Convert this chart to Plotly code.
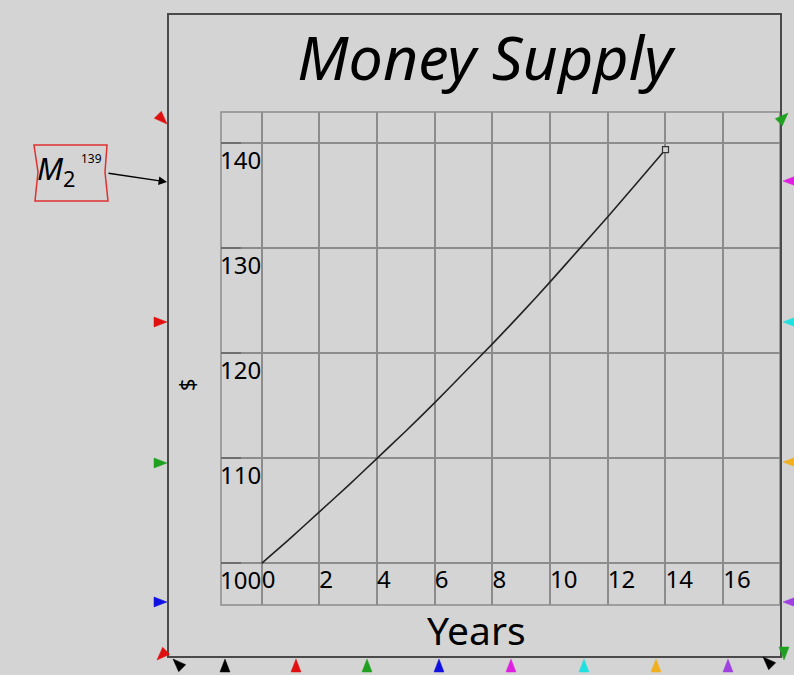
import plotly.graph_objects as go

# ---- data ----
years = [0, 1, 2, 3, 4, 5, 6, 7, 8, 9, 10, 11, 12, 13, 14]
money_supply = [100.0, 102.4, 104.9, 107.4, 110.0, 112.6, 115.3, 118.1, 120.9,
                123.8, 126.8, 129.9, 133.0, 136.2, 139.4]
x_ticks = [0, 2, 4, 6, 8, 10, 12, 14, 16]
y_ticks = [100, 110, 120, 130, 140]
final_label = "139"

# ---- geometry helpers (pixel -> paper) ----
W, H = 794, 675
L, R, T, B = 221, 780, 112, 605
PW, PH = R - L, B - T


def px(xp):
    return (xp - L) / PW


def py(yp):
    return (B - yp) / PH


BG = "#d4d4d4"
GRID = "#8c8c8c"
FONT = "Noto Sans"

fig = go.Figure()
fig.add_trace(go.Scatter(x=years, y=money_supply, mode="lines",
                         line=dict(color="#222222", width=1.6, shape="spline", smoothing=0.6),
                         hoverinfo="skip", showlegend=False))
fig.add_trace(go.Scatter(x=[years[-1]], y=[money_supply[-1]], mode="markers",
                         marker=dict(symbol="square", size=6, color=BG,
                                     line=dict(color="#333333", width=1.2)),
                         hoverinfo="skip", showlegend=False))

shapes = []
# plot-area border
shapes.append(dict(type="rect", xref="paper", yref="paper", x0=0, x1=1, y0=0, y1=1,
                   line=dict(color=GRID, width=1.5), layer="below"))
# outer frame
shapes.append(dict(type="rect", xref="paper", yref="paper",
                   x0=px(168), x1=px(781), y0=py(657), y1=py(14),
                   line=dict(color="#4a4a4a", width=2)))


def tri(tx, ty, dx, dy, color, length=13, half=5):
    n = (dx * dx + dy * dy) ** 0.5
    dx, dy = dx / n, dy / n
    bx, by = tx - length * dx, ty - length * dy
    qx, qy = -dy, dx
    pts = [(tx, ty), (bx + half * qx, by + half * qy), (bx - half * qx, by - half * qy)]
    path = "M " + " L ".join(f"{px(a):.5f},{py(b):.5f}" for a, b in pts) + " Z"
    return dict(type="path", xref="paper", yref="paper", path=path,
                fillcolor=color, line=dict(color=color, width=0.5))


# left side
shapes += [tri(167, 124, 1, 1, "#e01010"),
           tri(167, 322, 1, 0, "#e01010"),
           tri(167, 463, 1, 0, "#20a020"),
           tri(167, 602, 1, 0, "#1010e0"),
           tri(157, 660, -1, 1, "#e01010")]
# bottom side
bottom = [(225, "#000000"), (296, "#e01010"), (367, "#20a020"), (439, "#1010e0"),
          (511, "#e020e0"), (584, "#20e0e0"), (656, "#f0b020"), (728, "#a040e0")]
shapes += [tri(xx, 659, 0, -1, c) for xx, c in bottom]
shapes += [tri(173, 659, -1, -1, "#000000"), tri(763, 657, -1, -1, "#000000")]
# right side
right = [(181, "#e020e0"), (322, "#20e0e0"), (462, "#f0b020"), (602, "#a040e0")]
shapes += [tri(783, yy, -1, 0, c) for yy, c in right]
shapes += [tri(788, 113, 1, -1, "#20a020"), tri(784, 660, 0, 1, "#20a020")]

# M2 stock box
box = [(34, 145), (107, 145), (105, 172), (108, 201), (35, 201), (38, 172)]
shapes.append(dict(type="path", xref="paper", yref="paper",
                   path="M " + " L ".join(f"{px(a):.5f},{py(b):.5f}" for a, b in box) + " Z",
                   line=dict(color="#e03030", width=1.5)))

annotations = [
    dict(text="$", x=px(186), y=py(385), xref="paper", yref="paper",
         showarrow=False, textangle=-90, font=dict(family=FONT, size=22, color="#000"),
         xanchor="center", yanchor="middle"),
    dict(text="Years", x=px(476), y=py(629), xref="paper", yref="paper",
         showarrow=False, font=dict(family=FONT, size=39, color="#000"),
         xanchor="center", yanchor="middle"),
    dict(text="<i>M</i><sub>2</sub>", x=px(35), y=py(170), xref="paper", yref="paper",
         showarrow=False, font=dict(family=FONT, size=31, color="#000"),
         xanchor="left", yanchor="middle"),
    dict(text=final_label, x=px(91), y=py(158), xref="paper", yref="paper",
         showarrow=False, font=dict(family=FONT, size=12, color="#000"),
         xanchor="center", yanchor="middle"),
    dict(text="", x=px(167), y=py(182), xref="paper", yref="paper",
         ax=-60, ay=-9, showarrow=True, arrowhead=2, arrowsize=1.2,
         arrowwidth=1.4, arrowcolor="#000"),
]

fig.update_layout(
    width=W, height=H,
    margin=dict(l=L, r=W - R, t=T, b=H - B),
    paper_bgcolor=BG, plot_bgcolor=BG,
    title=dict(text="Money Supply", x=485 / W, xref="container", xanchor="center",
               y=1 - 59 / H, yref="container", yanchor="middle",
               font=dict(family=FONT, size=61, color="#000", style="italic")),
    shapes=shapes, annotations=annotations,
    showlegend=False,
)
# x labels sit in the band between the 100-line and the plot bottom
fig.update_xaxes(range=[-1.41, 17.97], tickvals=x_ticks,
                 anchor="free", position=py(563),
                 ticklabelposition="outside right",
                 tickfont=dict(family=FONT, size=24, color="#000"),
                 showgrid=True, gridcolor=GRID, gridwidth=1.5,
                 showline=False, zeroline=False, ticks="")
fig.update_yaxes(range=[96.03, 142.98], tickvals=y_ticks,
                 ticklabelposition="inside bottom", ticklabelstandoff=-4,
                 tickfont=dict(family=FONT, size=24, color="#000"),
                 showgrid=True, gridcolor=GRID, gridwidth=1.5,
                 showline=False, zeroline=False,
                 ticks="inside", ticklen=20, tickcolor="#6e6e6e", tickwidth=1.5)

fig.write_html("out.html", config={"displayModeBar": False},
               post_script="document.body.style.margin='0';document.body.style.background='%s';" % BG)
